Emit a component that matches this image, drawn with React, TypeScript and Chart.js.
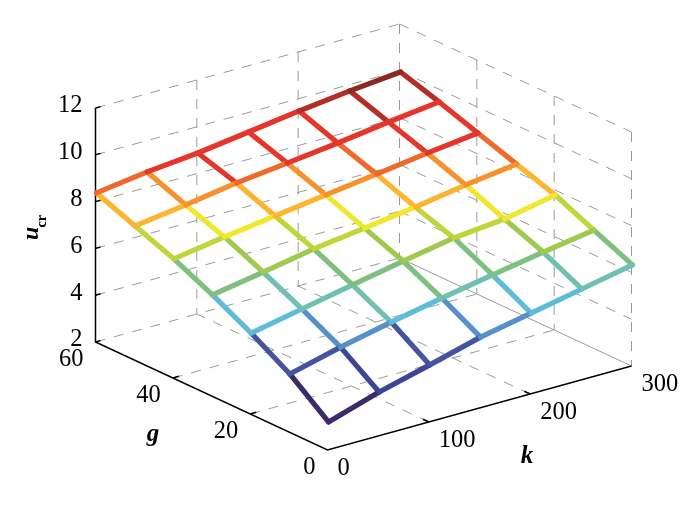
import React, { useEffect, useRef } from "react";
import { Chart, registerables } from "chart.js";

Chart.register(...registerables);

const kValues = [0, 50, 100, 150, 200, 250, 300];
const gValues = [0, 10, 20, 30, 40, 50, 60];
const uAt_g0 = [3.2, 3.88, 4.44, 5.03, 5.46, 5.89, 6.32];
const uAt_g10 = [4.48, 5.03, 5.5, 5.93, 6.32, 6.7, 7.04];
const uAt_g20 = [5.46, 5.89, 6.32, 6.74, 7.13, 7.34, 7.77];
const uAt_g30 = [6.32, 6.7, 7.09, 7.38, 7.68, 8.03, 8.32];
const uAt_g40 = [7.09, 7.43, 7.73, 8.03, 8.32, 8.62, 8.88];
const uAt_g50 = [7.73, 8.03, 8.37, 8.62, 8.88, 9.18, 9.44];
const uAt_g60 = [8.37, 8.67, 8.88, 9.18, 9.48, 9.74, 9.95];
const uRows = [uAt_g0, uAt_g10, uAt_g20, uAt_g30, uAt_g40, uAt_g50, uAt_g60];

const uTicks = [2, 4, 6, 8, 10, 12];
const gTicks = [0, 20, 40, 60];
const kTicks = [0, 100, 200, 300];

const colorLimits = [3.9, 4.5, 5.0, 5.5, 5.9, 6.3, 6.75, 7.1, 7.45, 7.75, 8.06, 8.36, 8.62, 9.4, 9.7, 99];
const colorSteps = ["#3b2a6c", "#3c4596", "#44549f", "#5590c8", "#5fbcd8", "#6fc0b0", "#7fc080", "#9fc94f", "#bfd53a", "#f1e72e", "#fdb42e", "#f6922e", "#ee6a2c", "#e6352a", "#b22f27", "#8c2a22"];

// Orthographic view of the (k, g, u) box
const project = (k: number, g: number, u: number) => ({
  x: 327.5 + (304 * k) / 300 - (232 * g) / 60,
  y: 450 - (84 * k) / 300 - (108 * g) / 60 - 23.4 * (u - 2),
});

const colorFor = (u: number) => colorSteps[colorLimits.findIndex((l) => u < l)];

const wire = (pts: { k: number; g: number; u: number }[], style: object, dx = 0) => ({
  data: pts.map((p) => {
    const q = project(p.k, p.g, p.u);
    return { x: q.x + dx, y: q.y, u: p.u };
  }),
  showLine: true,
  pointRadius: 0,
  clip: false,
  ...style,
});

const meshStyle = {
  borderWidth: 5.2,
  borderCapStyle: "round",
  borderJoinStyle: "miter",
  segment: {
    borderColor: (ctx: any) => {
      const d = ctx.chart.data.datasets[ctx.datasetIndex].data;
      return colorFor((d[ctx.p0DataIndex].u + d[ctx.p1DataIndex].u) / 2);
    },
  },
};
const dashStyle = { borderColor: "#9a9a9a", borderWidth: 1, borderDash: [10, 9] };
const wallSolid = { borderColor: "#9a9a9a", borderWidth: 1 };
const axisStyle = { borderColor: "#000000", borderWidth: 1.5 };

function buildDatasets() {
  const sets: any[] = [];
  // mesh (first dataset is on top)
  gValues.forEach((g, i) => sets.push(wire(kValues.map((k, j) => ({ k, g, u: uRows[i][j] })), meshStyle, 1)));
  kValues.forEach((k, j) => sets.push(wire(gValues.map((g, i) => ({ k, g, u: uRows[i][j] })), meshStyle, 1)));
  // axes and ticks
  sets.push(wire([{ k: 0, g: 60, u: 12 }, { k: 0, g: 60, u: 2 }, { k: 0, g: 0, u: 2 }, { k: 300, g: 0, u: 2 }], axisStyle));
  uTicks.forEach((u) => sets.push(wire([{ k: 0, g: 60, u }, { k: 5, g: 60, u }], axisStyle)));
  gTicks.slice(1, 3).forEach((g) => sets.push(wire([{ k: 0, g, u: 2 }, { k: 6, g, u: 2 }], axisStyle)));
  kTicks.slice(1, 3).forEach((k) => sets.push(wire([{ k, g: 0, u: 2 }, { k, g: 1.5, u: 2 }], axisStyle)));
  // walls and floor
  uTicks.forEach((u) => {
    sets.push(wire([{ k: 0, g: 60, u }, { k: 300, g: 60, u }], dashStyle));
    if (u > 2) sets.push(wire([{ k: 300, g: 60, u }, { k: 300, g: 0, u }], dashStyle));
  });
  sets.push(wire([{ k: 300, g: 60, u: 2 }, { k: 300, g: 0, u: 2 }], wallSolid));
  kTicks.slice(1).forEach((k) => sets.push(wire([{ k, g: 60, u: 12 }, { k, g: 60, u: 2 }], dashStyle)));
  gTicks.slice(0, 3).forEach((g) => sets.push(wire([{ k: 300, g, u: 12 }, { k: 300, g, u: 2 }], dashStyle)));
  kTicks.slice(1, 3).forEach((k) => sets.push(wire([{ k, g: 0, u: 2 }, { k, g: 60, u: 2 }], dashStyle)));
  gTicks.slice(1, 3).forEach((g) => sets.push(wire([{ k: 0, g, u: 2 }, { k: 300, g, u: 2 }], dashStyle)));
  return sets;
}

const serif = '"Liberation Serif", serif';

const labelPlugin = {
  id: "boxLabels",
  afterDraw(chart: any) {
    const { ctx } = chart;
    const sx = chart.scales.x;
    const sy = chart.scales.y;
    const put = (text: string, p: { x: number; y: number }, dx: number, dy: number, align: CanvasTextAlign) => {
      ctx.textAlign = align;
      ctx.fillText(text, sx.getPixelForValue(p.x) + dx, sy.getPixelForValue(p.y) + dy);
    };
    ctx.save();
    ctx.fillStyle = "#000000";
    ctx.textBaseline = "middle";
    ctx.font = `24.5px ${serif}`;
    uTicks.forEach((u) => put(String(u), project(0, 60, u), -13, -2, "right"));
    gTicks.forEach((g) => put(String(g), project(0, g, 2), -12, 18, "right"));
    kTicks.forEach((k) => put(String(k), project(k, 0, 2), 10, 19, "left"));
    ctx.font = `italic bold 25px ${serif}`;
    ctx.textAlign = "center";
    ctx.fillText("k", 527, 457);
    ctx.fillText("g", 153, 435);
    ctx.textBaseline = "alphabetic";
    ctx.translate(38, 240);
    ctx.rotate(-Math.PI / 2);
    ctx.textAlign = "left";
    ctx.font = `italic bold 24px ${serif}`;
    ctx.fillText("u", 0, 0);
    ctx.font = `bold 14px ${serif}`;
    ctx.fillText("cr", 12.5, 8);
    ctx.restore();
  },
};

export default function App() {
  const ref = useRef<HTMLCanvasElement>(null);
  useEffect(() => {
    const chart = new Chart(ref.current as HTMLCanvasElement, {
      type: "scatter",
      data: { datasets: buildDatasets() },
      options: {
        animation: false,
        responsive: false,
        layout: { padding: 0 },
        plugins: { legend: { display: false }, tooltip: { enabled: false } },
        scales: {
          x: { type: "linear", min: 0, max: 700, display: false },
          y: { type: "linear", min: 0, max: 507, reverse: true, display: false },
        },
      },
      plugins: [labelPlugin],
    } as any);
    return () => chart.destroy();
  }, []);
  return (
    <div style={{ position: "fixed", left: 0, top: 0, width: 700, height: 507, background: "#fff" }}>
      <canvas ref={ref} width={700} height={507} style={{ display: "block" }} />
    </div>
  );
}
